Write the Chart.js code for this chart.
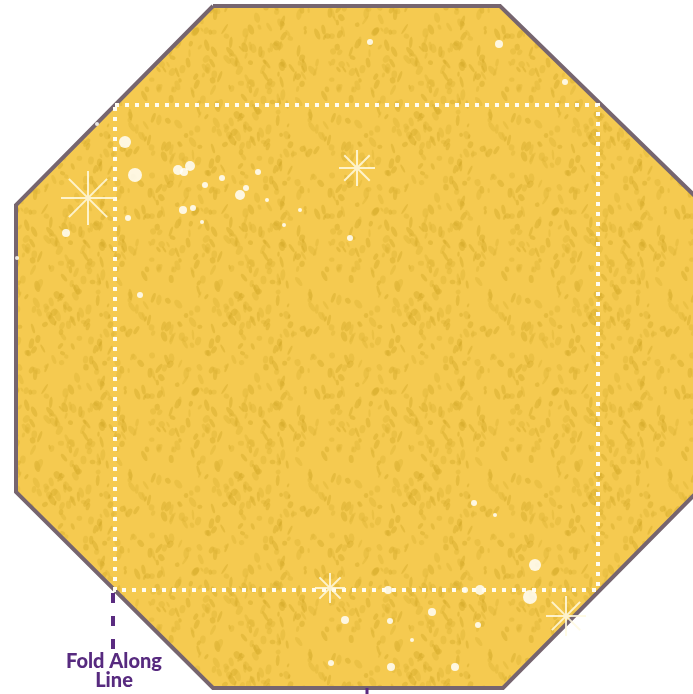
<!DOCTYPE html>
<html>
<head>
<meta charset="utf-8">
<script src="https://cdn.jsdelivr.net/npm/chart.js@4.4.1/dist/chart.umd.min.js"></script>
<style>
  html, body { margin: 0; padding: 0; background: #fff; }
  #wrap { width: 693px; height: 694px; }
</style>
</head>
<body>
<div id="wrap"><canvas id="octagon" width="693" height="694"></canvas></div>
<script>
// outline of the octagon (pixels of the original, y grows downward)
const octX = [213, 500, 697, 697, 503, 213, 16, 16, 213]
const octY = [6, 6, 198, 492, 688, 688, 492, 205, 6]

// dotted fold square
const foldX = [115, 598, 598, 115, 115]
const foldY = [105, 105, 590, 590, 105]

// purple guide from the fold corner to the label
const guideX = [113, 113]
const guideY = [593, 650]
const tickX = [367, 367]
const tickY = [688, 694]

// sparkles
const starX = [88, 357, 330, 566]
const starY = [198, 168, 588, 616]
const starR = [27, 18, 15, 20]

const dotX = [125, 135, 178, 190, 184, 240, 205, 183, 193, 222, 246, 267, 350, 284, 140, 128, 66, 202, 499, 370, 565, 535, 480, 530, 465, 478, 455, 345, 432, 390, 331, 391, 388, 474, 495, 412, 300, 258, 17, 97]
const dotY = [142, 175, 170, 166, 172, 195, 185, 210, 208, 178, 188, 200, 238, 225, 295, 218, 233, 222, 44, 42, 82, 565, 590, 597, 590, 625, 667, 620, 612, 621, 663, 667, 590, 503, 515, 640, 210, 172, 258, 124]
const dotR = [6, 7, 5, 5, 4, 5, 3, 4, 3, 3, 3, 2, 3, 2, 3, 3, 4, 2, 4, 3, 3, 6, 5, 7, 3, 3, 4, 4, 4, 3, 3, 4, 4, 3, 2, 2, 2, 3, 2, 2]

const labelLines = ['Fold Along', 'Line']
const labelX = 114
const labelY = [662, 681]

const pts = (xs, ys) => xs.map((x, i) => ({ x: x, y: ys[i] }))

// mottled gold texture for the fill
const tile = document.createElement('canvas')
tile.width = 180
tile.height = 180
const tctx = tile.getContext('2d')
tctx.fillStyle = '#f5ca50'
tctx.fillRect(0, 0, 180, 180)
let seed = 11
function nextVal() {
  seed = (seed * 16807) % 2147483647
  return seed / 2147483647
}
for (let i = 0; i < 300; i++) {
  const cx = nextVal() * 180
  const cy = nextVal() * 180
  const w = 1 + nextVal() * 2.2
  const h = 2 + nextVal() * 4
  tctx.fillStyle = nextVal() > 0.5 ? 'rgba(212,170,42,0.45)' : 'rgba(224,182,55,0.45)'
  const rot = nextVal() * 1.4 - 0.7
  for (let dx = -180; dx <= 180; dx += 180) {
    for (let dy = -180; dy <= 180; dy += 180) {
      tctx.beginPath()
      tctx.ellipse(cx + dx, cy + dy, w, h, rot, 0, Math.PI * 2)
      tctx.fill()
    }
  }
}
const goldPattern = tctx.createPattern(tile, 'repeat')

const labelPlugin = {
  id: 'foldLabel',
  afterDatasetsDraw(chart) {
    const ctx = chart.ctx
    const x = chart.scales.x
    const y = chart.scales.y
    ctx.save()
    ctx.fillStyle = '#572a7f'
    ctx.font = '900 20px Lato'
    ctx.textAlign = 'center'
    ctx.textBaseline = 'middle'
    labelLines.forEach((line, i) => {
      ctx.fillText(line, x.getPixelForValue(labelX), y.getPixelForValue(labelY[i]))
    })
    ctx.restore()
  }
}

const ctx = document.getElementById('octagon')
new Chart(ctx, {
  type: 'scatter',
  data: {
    datasets: [
      {
        data: pts(starX, starY),
        pointStyle: 'star',
        pointRadius: starR,
        borderColor: 'rgba(255,250,225,0.85)',
        borderWidth: 2,
        backgroundColor: 'rgba(255,255,255,0.9)',
        order: 1
      },
      {
        data: pts(foldX, foldY),
        showLine: true,
        borderColor: '#fffdf2',
        borderWidth: 4,
        borderDash: [4, 6],
        borderCapStyle: 'butt',
        pointRadius: 0,
        fill: false,
        order: 2
      },
      {
        data: pts(dotX, dotY),
        pointRadius: dotR,
        backgroundColor: 'rgba(255,255,250,0.85)',
        borderWidth: 0,
        order: 3
      },
      {
        data: pts(guideX, guideY),
        showLine: true,
        borderColor: '#5a2b80',
        borderWidth: 4,
        borderDash: [10, 13],
        borderCapStyle: 'butt',
        pointRadius: 0,
        order: 4
      },
      {
        data: pts(tickX, tickY),
        showLine: true,
        borderColor: '#5a2b80',
        borderWidth: 3,
        pointRadius: 0,
        order: 4
      },
      {
        data: pts(octX, octY),
        showLine: true,
        borderColor: '#76656f',
        borderWidth: 4,
        borderJoinStyle: 'miter',
        backgroundColor: goldPattern,
        fill: 'shape',
        pointRadius: 0,
        tension: 0,
        order: 10
      }
    ]
  },
  options: {
    responsive: false,
    animation: false,
    devicePixelRatio: 1,
    layout: { padding: 0, autoPadding: false },
    scales: {
      x: { type: 'linear', min: 0, max: 693, display: false },
      y: { type: 'linear', min: 0, max: 694, reverse: true, display: false }
    },
    plugins: {
      legend: { display: false },
      tooltip: { enabled: false }
    }
  },
  plugins: [labelPlugin]
})
</script>
</body>
</html>
